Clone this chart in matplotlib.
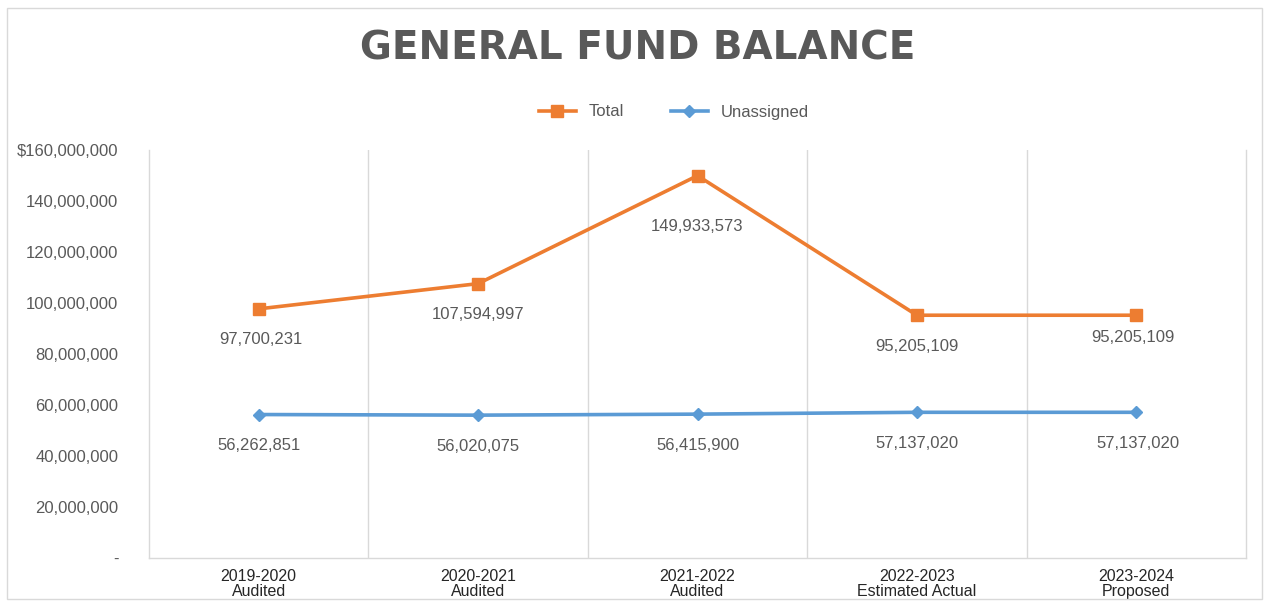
import matplotlib
matplotlib.use("Agg")
import matplotlib.pyplot as plt
from matplotlib.patches import Rectangle
from matplotlib.ticker import FuncFormatter, FixedLocator

categories = ["2019-2020\nAudited", "2020-2021\nAudited", "2021-2022\nAudited",
              "2022-2023\nEstimated Actual", "2023-2024\nProposed"]
total = [97700231, 107594997, 149933573, 95205109, 95205109]
unassigned = [56262851, 56020075, 56415900, 57137020, 57137020]
yticks = [0, 20000000, 40000000, 60000000, 80000000, 100000000, 120000000, 140000000, 160000000]

ORANGE = "#ED7D31"
BLUE = "#5B9BD5"
GRAY = "#595959"
GRID = "#D9D9D9"

plt.rcParams['font.family'] = ['Liberation Sans', 'DejaVu Sans']

fig = plt.figure(figsize=(12.67, 6.03), dpi=100)
ax = fig.add_axes([149/1267, 45/603, 1097/1267, 408/603])

x = list(range(len(categories)))
ax.plot(x, total, color=ORANGE, lw=2.6, marker="s", ms=9, label="Total", zorder=3)
ax.plot(x, unassigned, color=BLUE, lw=2.6, marker="D", ms=6, label="Unassigned", zorder=3)

tot_off = [(2, -31), (0, -31), (0, -51), (0, -31), (-3, -22)]
un_off = [(0, -31), (0, -31), (0, -31), (0, -31), (2, -31)]
for i, v in enumerate(total):
    ax.annotate(f"{v:,}", (i, v), xytext=tot_off[i], textcoords="offset pixels",
                ha="center", va="center", fontsize=12, color=GRAY)
for i, v in enumerate(unassigned):
    ax.annotate(f"{v:,}", (i, v), xytext=un_off[i], textcoords="offset pixels",
                ha="center", va="center", fontsize=12, color=GRAY)

ax.set_xlim(-0.5, len(categories) - 0.5)
ax.set_ylim(0, 160000000)
ax.set_xticks(x)
ax.set_xticklabels(categories, fontsize=11.5, color="#262626", linespacing=0.95)
ax.xaxis.set_minor_locator(FixedLocator([i + 0.5 for i in range(len(categories) - 1)]))
ax.grid(which="minor", axis="x", color=GRID, lw=1)
ax.tick_params(axis="x", which="both", length=0, pad=8)

def fmt(v, pos):
    if v == 0:
        return "-"
    s = f"{int(v):,}"
    if v == 160000000:
        s = "$" + s
    return s

ax.set_yticks(yticks)
ax.yaxis.set_major_formatter(FuncFormatter(fmt))
ax.tick_params(axis="y", length=0, labelsize=12, labelcolor=GRAY, pad=22)

for s in ["left", "right", "bottom"]:
    ax.spines[s].set_color(GRID)
    ax.spines[s].set_linewidth(1)
ax.spines["top"].set_visible(False)

leg = ax.legend(loc="center", bbox_to_anchor=(674/1267, 1 - 112/603), bbox_transform=fig.transFigure,
                ncol=2, frameon=False, fontsize=12, handlelength=2.2, handletextpad=0.8,
                columnspacing=2.8)
for t in leg.get_texts():
    t.set_color(GRAY)

fig.text(638/1267, 1 - 48/603, "GENERAL FUND BALANCE", family="DejaVu Sans",
         ha="center", va="center", fontsize=28, fontweight="bold", color=GRAY)

fig.patches.append(Rectangle((7/1267, 4/603), 1255/1267, 591/603, transform=fig.transFigure,
                             fill=False, edgecolor=GRID, lw=1))

fig.savefig("out.png", dpi=100)
